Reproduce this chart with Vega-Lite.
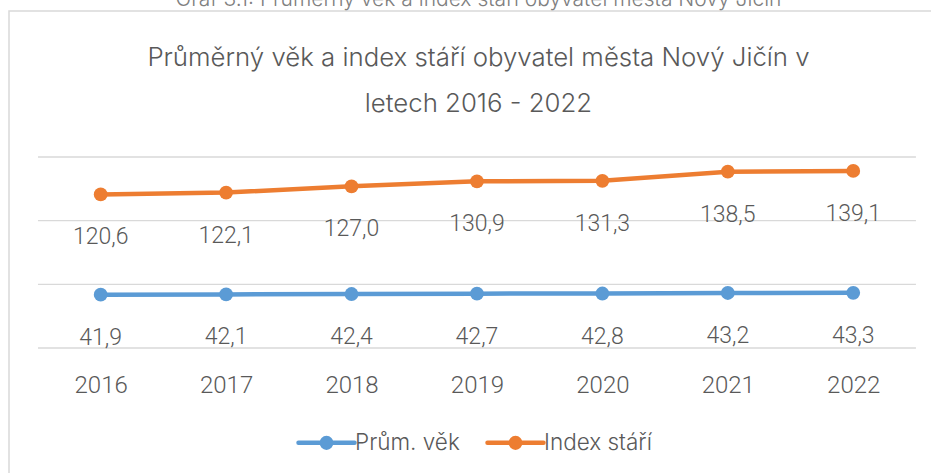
{
  "$schema": "https://vega.github.io/schema/vega-lite/v6.json",
  "width": 925,
  "height": 465,
  "autosize": {"type": "none"},
  "padding": {"left": 9, "top": 11, "right": -3, "bottom": -3},
  "background": "white",
  "config": {
    "font": "Roboto",
    "locale": {"number": {"decimal": ",", "thousands": " ", "grouping": [3], "currency": ["", " Kč"]}},
    "view": {"stroke": "#d9d9d9", "strokeWidth": 1.5}
  },
  "title": {
    "text": "Graf 3.1: Průměrný věk a index stáří obyvatel města Nový Jičín",
    "subtitle": ["Průměrný věk a index stáří obyvatel města Nový Jičín v", "letech 2016 - 2022"],
    "anchor": "middle",
    "font": "Inter",
    "fontSize": 21,
    "fontWeight": 300,
    "color": "#808080",
    "subtitleFont": "Inter",
    "subtitleFontSize": 25.8,
    "subtitleFontWeight": 300,
    "subtitleColor": "#595959",
    "subtitleLineHeight": 46,
    "subtitlePadding": 36,
    "offset": -106,
    "dx": 7
  },
  "datasets": {
    "series": [
      {"year": 2016, "series": "Prům. věk", "value": 41.9},
      {"year": 2017, "series": "Prům. věk", "value": 42.1},
      {"year": 2018, "series": "Prům. věk", "value": 42.4},
      {"year": 2019, "series": "Prům. věk", "value": 42.7},
      {"year": 2020, "series": "Prům. věk", "value": 42.8},
      {"year": 2021, "series": "Prům. věk", "value": 43.2},
      {"year": 2022, "series": "Prům. věk", "value": 43.3},
      {"year": 2016, "series": "Index stáří", "value": 120.6},
      {"year": 2017, "series": "Index stáří", "value": 122.1},
      {"year": 2018, "series": "Index stáří", "value": 127.0},
      {"year": 2019, "series": "Index stáří", "value": 130.9},
      {"year": 2020, "series": "Index stáří", "value": 131.3},
      {"year": 2021, "series": "Index stáří", "value": 138.5},
      {"year": 2022, "series": "Index stáří", "value": 139.1}
    ],
    "grid": [{"g": 0}, {"g": 50}, {"g": 100}, {"g": 150}]
  },
  "layer": [
    {
      "data": {"name": "grid"},
      "mark": {"type": "rule", "color": "#d9d9d9", "strokeWidth": 1.3},
      "encoding": {
        "y": {"field": "g", "type": "quantitative", "scale": {"domain": [-100.52, 264.66], "nice": false, "zero": false}, "axis": null},
        "x": {"datum": 2015.5, "type": "quantitative", "scale": {"domain": [2015.269, 2022.644], "nice": false, "zero": false},
              "axis": {"title": null, "values": [2016, 2017, 2018, 2019, 2020, 2021, 2022], "format": "d", "ticks": false, "domain": false, "grid": false, "labelFontSize": 24, "labelFontWeight": 300, "labelColor": "#595959", "labelBaseline": "alphabetic", "labelPadding": 0, "offset": -84, "labelFlush": false, "labelOverlap": false}},
        "x2": {"datum": 2022.5}
      }
    },
    {
      "data": {"name": "series"},
      "mark": {"type": "line", "strokeWidth": 4.5, "strokeCap": "round", "point": {"filled": true, "size": 190}},
      "encoding": {
        "x": {"field": "year", "type": "quantitative",
              "axis": {"title": null, "values": [2016, 2017, 2018, 2019, 2020, 2021, 2022], "format": "d", "ticks": false, "domain": false, "grid": false, "labelFontSize": 24, "labelFontWeight": 300, "labelColor": "#595959", "labelBaseline": "alphabetic", "labelPadding": 0, "offset": -84, "labelFlush": false, "labelOverlap": false}},
        "y": {"field": "value", "type": "quantitative", "axis": null},
        "color": {
          "field": "series", "type": "nominal",
          "scale": {"domain": ["Prům. věk", "Index stáří"], "range": ["#5B9BD5", "#ED7D31"]},
          "legend": {
            "title": null, "orient": "none", "legendX": 287, "legendY": 401, "direction": "horizontal",
            "symbolType": "M-1,0L1,0M0.17,0A0.17,0.17,0,1,1,-0.17,0A0.17,0.17,0,1,1,0.17,0Z",
            "symbolSize": 3136, "symbolStrokeWidth": 4.5,
            "labelFont": "Inter", "labelFontWeight": 300,
            "labelFontSize": 22.5, "labelColor": "#595959", "labelOffset": -2, "columnPadding": 18, "padding": 0,
            "encode": {"symbols": {"update": {"fill": {"scale": "color", "field": "value"}, "strokeCap": {"value": "round"}}}}
          }
        }
      }
    },
    {
      "data": {"name": "series"},
      "mark": {"type": "text", "dy": 50, "baseline": "alphabetic", "fontSize": 23, "fontWeight": 300, "color": "#595959"},
      "encoding": {
        "x": {"field": "year", "type": "quantitative",
              "axis": {"title": null, "values": [2016, 2017, 2018, 2019, 2020, 2021, 2022], "format": "d", "ticks": false, "domain": false, "grid": false, "labelFontSize": 24, "labelFontWeight": 300, "labelColor": "#595959", "labelBaseline": "alphabetic", "labelPadding": 0, "offset": -84, "labelFlush": false, "labelOverlap": false}},
        "y": {"field": "value", "type": "quantitative", "axis": null},
        "text": {"field": "value", "type": "quantitative", "format": ".1f"}
      }
    }
  ]
}
